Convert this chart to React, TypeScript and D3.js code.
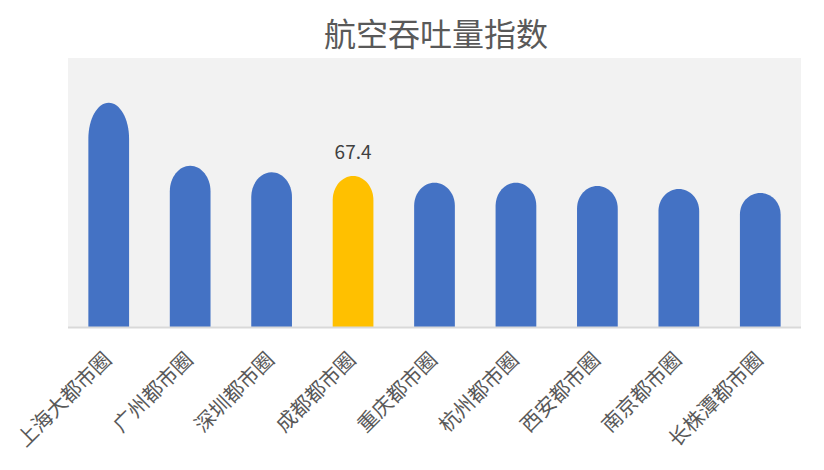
import React from "react";
import * as d3 from "d3";

const categories = ["上海大都市圈", "广州都市圈", "深圳都市圈", "成都都市圈", "重庆都市圈", "杭州都市圈", "西安都市圈", "南京都市圈", "长株潭都市圈"];
const values = [100, 71.9, 69.0, 67.4, 64.3, 64.3, 62.9, 61.6, 59.8];
const highlighted = ["成都都市圈"];
const titleText = "航空吞吐量指数";
const yDomain = [0, 120];

const W = 824, H = 470;
const plot = { left: 68, right: 801, top: 58, bottom: 327 };
const FONT = "'Noto Sans CJK SC', 'Noto Sans', sans-serif";

export default function App() {
  const x = d3.scaleBand<string>().domain(categories).range([plot.left, plot.right]).paddingInner(0.5).paddingOuter(0.25);
  const y = d3.scaleLinear().domain(yDomain).range([plot.bottom, plot.top]);
  const bw = x.bandwidth();

  const barPath = (c: string, v: number) => {
    const x0 = x(c)!;
    const top = y(v);
    const h = plot.bottom - top;
    const rx = bw / 2;
    const ry = Math.min(0.16 * h, h);
    const p = d3.path();
    p.moveTo(x0, plot.bottom);
    p.lineTo(x0, top + ry);
    const k = 0.5523;
    p.bezierCurveTo(x0, top + ry - ry * k, x0 + rx - rx * k, top, x0 + rx, top);
    p.bezierCurveTo(x0 + rx + rx * k, top, x0 + bw, top + ry - ry * k, x0 + bw, top + ry);
    p.lineTo(x0 + bw, plot.bottom);
    p.closePath();
    return p.toString();
  };

  return (
    <svg width={W} height={H} style={{ position: "absolute", left: 0, top: 0, background: "#fff" }} fontFamily={FONT}>
      <text x={436} y={46} textAnchor="middle" fontSize={32} fill="#595959">{titleText}</text>
      <rect x={plot.left} y={plot.top} width={plot.right - plot.left} height={plot.bottom - plot.top} fill="#f2f2f2" />
      {categories.map((c, i) => (
        <path key={c} d={barPath(c, values[i])} fill={highlighted.includes(c) ? "#ffc000" : "#4472c4"} />
      ))}
      <rect x={plot.left} y={plot.bottom - 0.5} width={plot.right - plot.left} height={2} fill="#d9d9d9" />
      {categories.map((c, i) =>
        highlighted.includes(c) ? (
          <text key={"l" + c} x={x(c)! + bw / 2} y={y(values[i]) - 17} textAnchor="middle" fontSize={19} fill="#404040">
            {values[i].toFixed(1)}
          </text>
        ) : null
      )}
      {categories.map((c) => (
        <text
          key={"t" + c}
          transform={`translate(${x(c)! + bw / 2 + 4},${361}) rotate(-45)`}
          textAnchor="end"
          fontSize={20.5}
          fill="#595959"
        >
          {c}
        </text>
      ))}
    </svg>
  );
}
